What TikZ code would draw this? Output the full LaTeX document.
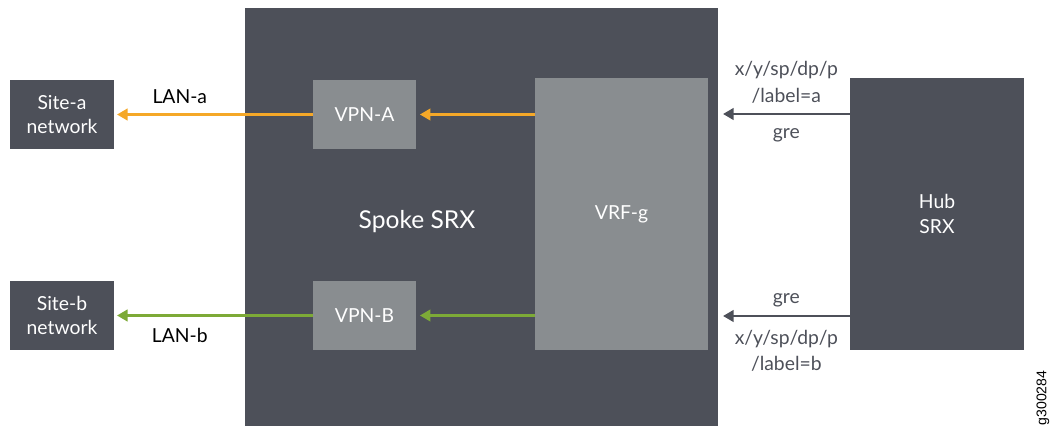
\documentclass[tikz,border=0pt]{standalone}
\usepackage{fontspec}
\setmainfont{Lato}
\newfontfamily\idfont{Liberation Sans}
\usetikzlibrary{arrows.meta}

\definecolor{boxdark}{HTML}{4D5059}
\definecolor{boxlight}{HTML}{898D90}
\definecolor{lanA}{HTML}{F5A828}
\definecolor{lanB}{HTML}{7DAA37}

\tikzset{
  darkbox/.style = {fill=boxdark, text=white, inner sep=0pt, align=center, font=\fontsize{11}{14}\selectfont},
  lightbox/.style = {fill=boxlight, text=white, inner sep=0pt, align=center, font=\fontsize{11}{14}\selectfont},
  flow/.style = {line width=1.6pt, -{Triangle[length=6pt,width=6.5pt]}},
  lbl/.style = {font=\fontsize{11}{15}\selectfont, align=center}
}

\begin{document}
\begin{tikzpicture}[x=0.02cm, y=-0.02cm]
  \useasboundingbox (0,0) rectangle (1053,428);
  % boxes
  \node[darkbox, minimum width=9.46cm, minimum height=8.36cm] (spoke) at (481.5,217) {};
  \node[text=white, font=\fontsize{14}{17}\selectfont] (spokelbl) at (417,222) {Spoke SRX};
  \node[darkbox, minimum width=2.08cm, minimum height=1.38cm] (sitea) at (62,114.5) {Site-a\\network};
  \node[darkbox, minimum width=2.08cm, minimum height=1.38cm] (siteb) at (62,315.5) {Site-b\\network};
  \node[lightbox, minimum width=2.06cm, minimum height=1.38cm] (vpna) at (364.5,114.5) {VPN-A};
  \node[lightbox, minimum width=2.06cm, minimum height=1.38cm] (vpnb) at (364.5,315.5) {VPN-B};
  \node[lightbox, minimum width=3.46cm, minimum height=5.44cm] (vrf) at (621.5,214) {VRF-g};
  \node[darkbox, minimum width=3.48cm, minimum height=5.44cm] (hub) at (937,214) {Hub\\SRX};

  % LAN flows
  \draw[flow, lanA, shorten >=2pt] (vrf.west |- vpna) -- (vpna.east);
  \draw[flow, lanA, shorten >=1.5pt] (vpna.west) -- node[lbl, text=black, above=2pt, pos=0.67] {LAN-a} (sitea.east);
  \draw[flow, lanB, shorten >=2pt] (vrf.west |- vpnb) -- (vpnb.east);
  \draw[flow, lanB, shorten >=1.5pt] (vpnb.west) -- node[lbl, text=black, below=3pt, pos=0.67] {LAN-b} (siteb.east);

  % tunnels from hub
  \coordinate (ina) at (723,114);
  \coordinate (inb) at (723,316);
  \draw[flow, boxdark] (hub.west |- ina) -- node[lbl, above=2pt] {x/y/sp/dp/p\\/label=a} node[lbl, below=4pt] {gre} (ina);
  \draw[flow, boxdark] (hub.west |- inb) -- node[lbl, above=1pt] {gre} node[lbl, below=4pt] {x/y/sp/dp/p\\/label=b} (inb);

  \node[rotate=90, font=\idfont\fontsize{8}{9}\selectfont] (figid) at (1043,398) {g300284};
\end{tikzpicture}
\end{document}
